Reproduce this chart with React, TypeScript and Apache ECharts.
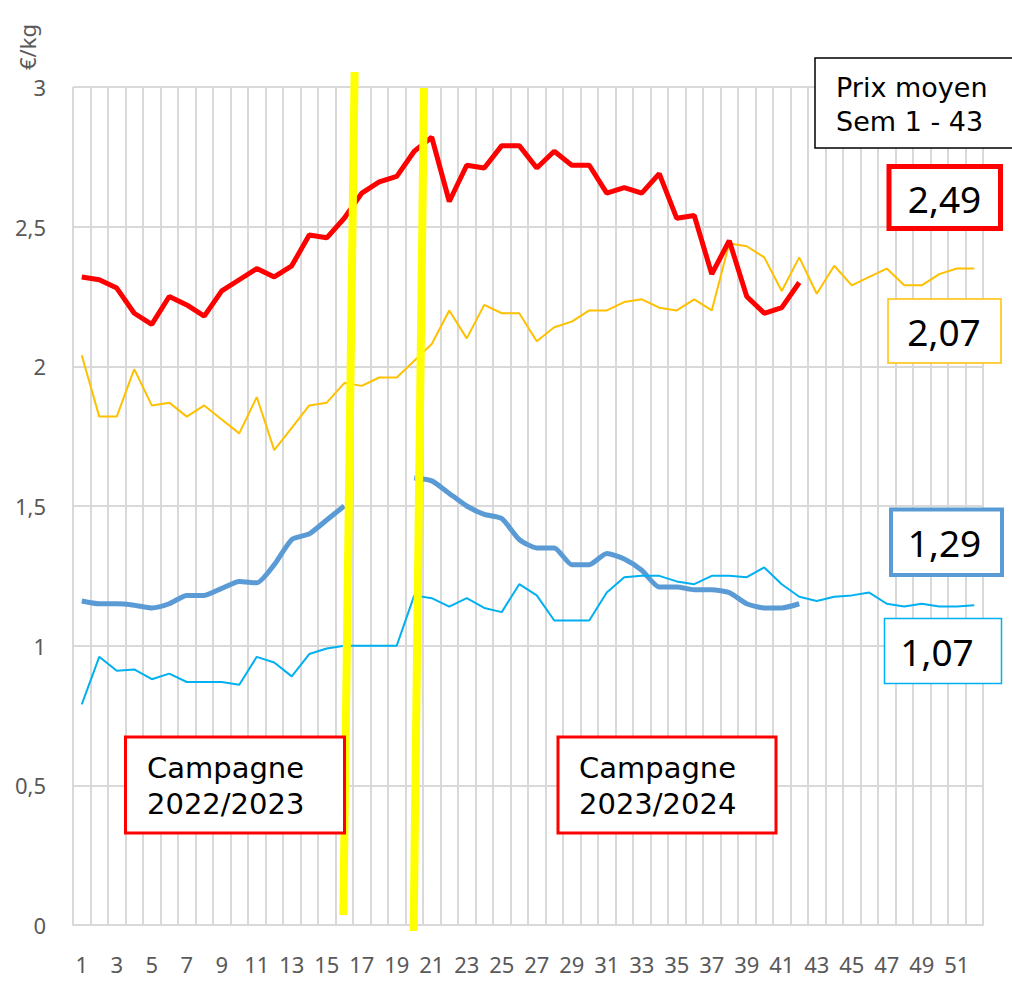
import React, { useEffect, useRef } from "react";
import * as echarts from "echarts";

const weeks = [
  "1","2","3","4","5","6","7","8","9","10","11","12","13","14","15","16","17","18","19","20","21","22","23","24","25","26",
  "27","28","29","30","31","32","33","34","35","36","37","38","39","40","41","42","43","44","45","46","47","48","49","50","51","52",
];

// thick red (Sem 1 - 42)
const redSeries = [
  2.32, 2.31, 2.28, 2.19, 2.15, 2.25, 2.22, 2.18, 2.27, 2.31,
  2.35, 2.32, 2.36, 2.47, 2.46, 2.53, 2.62, 2.66, 2.68, 2.77,
  2.82, 2.59, 2.72, 2.71, 2.79, 2.79, 2.71, 2.77, 2.72, 2.72,
  2.62, 2.64, 2.62, 2.69, 2.53, 2.54, 2.33, 2.45, 2.25, 2.19,
  2.21, 2.30,
];

// thin orange
const orangeSeries = [
  2.04, 1.82, 1.82, 1.99, 1.86, 1.87, 1.82, 1.86, 1.81, 1.76,
  1.89, 1.70, 1.78, 1.86, 1.87, 1.94, 1.93, 1.96, 1.96, 2.02,
  2.08, 2.20, 2.10, 2.22, 2.19, 2.19, 2.09, 2.14, 2.16, 2.20,
  2.20, 2.23, 2.24, 2.21, 2.20, 2.24, 2.20, 2.44, 2.43, 2.39,
  2.27, 2.39, 2.26, 2.36, 2.29, 2.32, 2.35, 2.29, 2.29, 2.33,
  2.35, 2.35,
];

// thick blue (gap weeks 17-19)
const blueSeries = [
  1.16, 1.15, 1.15, 1.145, 1.135, 1.15, 1.18, 1.18, 1.205, 1.23,
  1.225, 1.29, 1.38, 1.40, 1.45, 1.50, null, null, null, 1.60,
  1.59, 1.545, 1.50, 1.47, 1.455, 1.38, 1.35, 1.35, 1.29, 1.29,
  1.33, 1.31, 1.27, 1.21, 1.21, 1.20, 1.20, 1.19, 1.15, 1.135,
  1.135, 1.15,
];

// thin light blue
const lightBlueSeries = [
  0.79, 0.96, 0.91, 0.915, 0.88, 0.90, 0.87, 0.87, 0.87, 0.86,
  0.96, 0.94, 0.89, 0.97, 0.99, 1.00, 1.00, 1.00, 1.00, 1.18,
  1.17, 1.14, 1.17, 1.135, 1.12, 1.22, 1.18, 1.09, 1.09, 1.09,
  1.19, 1.245, 1.25, 1.25, 1.23, 1.22, 1.25, 1.25, 1.245, 1.28,
  1.22, 1.175, 1.16, 1.175, 1.18, 1.19, 1.15, 1.14, 1.15, 1.14,
  1.14, 1.145,
];

const avgLabels = ["2,49", "2,07", "1,29", "1,07"];
const campaignLine1 = ["Campagne", "Campagne"];
const campaignLine2 = ["2022/2023", "2023/2024"];
const avgTitle = ["Prix moyen", "Sem 1 - 43"];
const unitLabel = "€/kg";

const RED = "#FF0000";
const ORANGE = "#FFC000";
const BLUE = "#5B9BD5";
const LIGHTBLUE = "#00B0F0";
const YELLOW = "#FFFF00";
const GRID = "#D9D9D9";
const AXISTXT = "#595959";
const FONT = "'Noto Sans', sans-serif";
const BOXFONT = "'DejaVu Sans', sans-serif";

export default function App() {
  const ref = useRef<HTMLDivElement>(null);

  useEffect(() => {
    if (!ref.current) return;
    const chart = echarts.init(ref.current, undefined, { renderer: "svg" });

    const box = (x: number, y: number, w: number, h: number, color: string, lw: number) => ({
      type: "rect",
      z: 100,
      shape: { x, y, width: w, height: h },
      style: { fill: "#FFFFFF", stroke: color, lineWidth: lw },
    });
    const txt = (x: number, y: number, text: string, size: number, align: string, family: string) => ({
      type: "text",
      z: 101,
      x,
      y,
      style: {
        text,
        fill: "#000000",
        fontSize: size,
        fontFamily: family,
        textAlign: align,
        textVerticalAlign: "middle",
        lineHeight: Math.round(size * 1.05),
      },
    });

    const option: any = {
      animation: false,
      backgroundColor: "#FFFFFF",
      grid: { left: 73, right: 29, top: 87, bottom: 56, containLabel: false },
      xAxis: {
        type: "category",
        data: weeks,
        boundaryGap: true,
        axisLine: { show: true, lineStyle: { color: GRID, width: 2 } },
        axisTick: { show: false, interval: 0 },
        axisLabel: { interval: 1, color: AXISTXT, fontSize: 22, margin: 28, fontFamily: FONT },
        splitLine: { show: true, interval: 0, lineStyle: { color: GRID, width: 2 } },
      },
      yAxis: {
        type: "value",
        min: 0,
        max: 3,
        interval: 0.5,
        axisLine: { show: false },
        axisTick: { show: false },
        axisLabel: {
          color: AXISTXT,
          fontSize: 22,
          margin: 27,
          fontFamily: FONT,
          formatter: (v: number) => String(v).replace(".", ","),
        },
        splitLine: { show: true, lineStyle: { color: GRID, width: 2 } },
      },
      series: [
        {
          type: "line",
          data: orangeSeries,
          symbol: "none",
          lineStyle: { color: ORANGE, width: 2 },
          z: 2,
        },
        {
          type: "line",
          data: blueSeries,
          symbol: "none",
          connectNulls: false,
          smooth: 0.2,
          lineStyle: { color: BLUE, width: 5 },
          z: 2,
        },
        {
          type: "line",
          data: lightBlueSeries,
          symbol: "none",
          lineStyle: { color: LIGHTBLUE, width: 2 },
          z: 3,
        },
        {
          type: "line",
          data: redSeries,
          symbol: "none",
          lineStyle: { color: RED, width: 5 },
          z: 4,
        },
      ],
      graphic: [
        // campaign separators
        {
          type: "line",
          z: 90,
          shape: { x1: 354.6, y1: 72, x2: 343.3, y2: 915 },
          style: { stroke: YELLOW, lineWidth: 8 },
        },
        {
          type: "line",
          z: 90,
          shape: { x1: 424, y1: 88, x2: 413.6, y2: 931 },
          style: { stroke: YELLOW, lineWidth: 8 },
        },
        // unit label
        {
          type: "text",
          z: 101,
          x: 27,
          y: 47,
          rotation: Math.PI / 2,
          style: {
            text: unitLabel,
            fill: AXISTXT,
            fontSize: 22,
            fontFamily: FONT,
            textAlign: "center",
            textVerticalAlign: "middle",
          },
        },
        // Prix moyen box
        box(815, 58, 210, 90, "#000000", 1.5),
        txt(836, 87, avgTitle[0], 27, "left", BOXFONT),
        txt(836, 121, avgTitle[1], 27, "left", BOXFONT),
        // averages
        box(889, 166.5, 111.5, 62, RED, 5),
        txt(944.5, 198, avgLabels[0], 37, "center", FONT),
        box(888, 299, 113, 64, ORANGE, 1.5),
        txt(944, 331, avgLabels[1], 37, "center", FONT),
        box(891, 509.5, 111, 65.5, BLUE, 4),
        txt(944.5, 542, avgLabels[2], 37, "center", FONT),
        box(884.5, 618.5, 117, 65, LIGHTBLUE, 1.5),
        txt(937, 651, avgLabels[3], 37, "center", FONT),
        // campaigns
        box(125.5, 737, 219, 96, RED, 3),
        txt(147, 768, campaignLine1[0], 29, "left", BOXFONT),
        txt(147, 804, campaignLine2[0], 29, "left", BOXFONT),
        box(558, 737, 218, 96, RED, 3),
        txt(579, 768, campaignLine1[1], 29, "left", BOXFONT),
        txt(579, 804, campaignLine2[1], 29, "left", BOXFONT),
      ],
    };

    chart.setOption(option);
    return () => chart.dispose();
  }, []);

  return (
    <div
      ref={ref}
      style={{ position: "fixed", left: 0, top: 0, width: 1012, height: 981, background: "#fff" }}
    />
  );
}
